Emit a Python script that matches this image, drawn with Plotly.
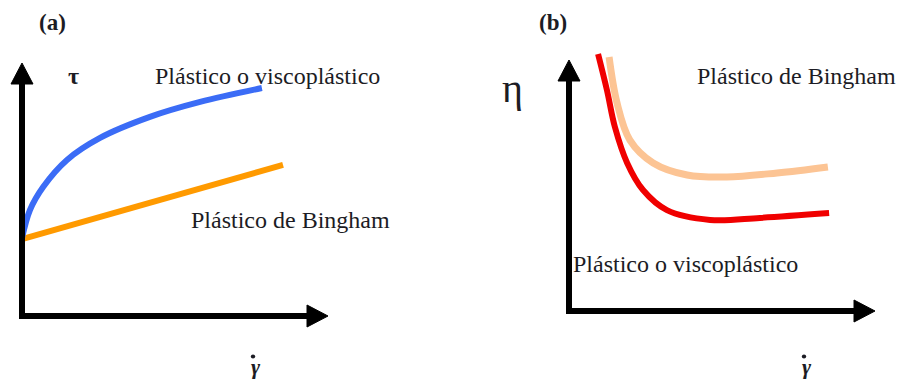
import plotly.graph_objects as go

W, H = 899, 380

# ---- data (abstract units: 0..10 along each drawn axis) ----
# (a) shear stress tau vs shear rate
a_visco_x = [0, 0.26, 0.69, 1.47, 2.55, 4.18, 5.82, 7.84]
a_visco_y = [3.08, 4.19, 5.10, 6.17, 7.04, 7.87, 8.46, 9.01]
a_bingham_x = [0, 8.53]
a_bingham_y = [3.04, 5.97]

# (b) viscosity eta vs shear rate
b_visco_x = [0.95, 1.24, 1.50, 1.90, 2.42, 3.20, 4.61, 6.24, 8.50]
b_visco_y = [10.24, 8.80, 7.33, 5.90, 4.82, 4.02, 3.63, 3.71, 3.90]
b_bingham_x = [1.31, 1.57, 1.99, 2.75, 3.86, 5.16, 6.80, 8.46]
b_bingham_y = [10.12, 8.29, 6.81, 5.90, 5.42, 5.34, 5.50, 5.74]

label_visco = "Plástico o viscoplástico"
label_bingham = "Plástico de Bingham"

# ---- panel frames in pixels: origin, x-arrow tip, y-arrow tip ----
frames = {
    "a": dict(ox=22, oy=316, xt=328, yt=63),
    "b": dict(ox=569, oy=311, xt=875, yt=60),
}
PAD = 0.6  # data-unit padding around the 0..10 box


def px(x):
    return x / W


def py(y):
    return 1 - y / H


fig = go.Figure()

layout_axes = {}
for i, key in enumerate(["a", "b"], start=1):
    f = frames[key]
    sx = (f["xt"] - f["ox"]) / 10.0
    sy = (f["oy"] - f["yt"]) / 10.0
    left = f["ox"] - PAD * sx
    right = f["xt"] + PAD * sx
    bottom = f["oy"] + PAD * sy
    top = f["yt"] - PAD * sy
    suffix = "" if i == 1 else str(i)
    common = dict(visible=False, showgrid=False, zeroline=False, fixedrange=True)
    layout_axes["xaxis" + suffix] = dict(domain=[px(left), px(right)], range=[-PAD, 10 + PAD],
                                         anchor="y" + suffix, **common)
    layout_axes["yaxis" + suffix] = dict(domain=[py(bottom), py(top)], range=[-PAD, 10 + PAD],
                                         anchor="x" + suffix, **common)

fig.add_trace(go.Scatter(x=a_bingham_x, y=a_bingham_y, mode="lines",
                         line=dict(color="#ff9a00", width=6), xaxis="x", yaxis="y"))
fig.add_trace(go.Scatter(x=a_visco_x, y=a_visco_y, mode="lines",
                         line=dict(color="#3b6cf6", width=6, shape="spline", smoothing=1.0),
                         xaxis="x", yaxis="y"))
fig.add_trace(go.Scatter(x=b_bingham_x, y=b_bingham_y, mode="lines",
                         line=dict(color="#fcc494", width=7, shape="spline", smoothing=1.0),
                         xaxis="x2", yaxis="y2"))
fig.add_trace(go.Scatter(x=b_visco_x, y=b_visco_y, mode="lines",
                         line=dict(color="#f00000", width=6, shape="spline", smoothing=1.0),
                         xaxis="x2", yaxis="y2"))

# ---- axis arrows ----
shapes = []
AL, AW = 21, 11  # arrowhead length and half-width (px)
for f in frames.values():
    ox, oy, xt, yt = f["ox"], f["oy"], f["xt"], f["yt"]
    shapes.append(dict(type="path", xref="paper", yref="paper",
                       path=f"M{px(ox)},{py(yt + AL - 1)} L{px(ox)},{py(oy)} L{px(xt - AL + 1)},{py(oy)}",
                       line=dict(color="black", width=6)))
    shapes.append(dict(type="path", xref="paper", yref="paper",
                       path=f"M{px(ox)},{py(yt)} L{px(ox - AW)},{py(yt + AL)} L{px(ox + AW)},{py(yt + AL)} Z",
                       fillcolor="black", line=dict(color="black", width=1)))
    shapes.append(dict(type="path", xref="paper", yref="paper",
                       path=f"M{px(xt)},{py(oy)} L{px(xt - AL)},{py(oy - AW)} L{px(xt - AL)},{py(oy + AW)} Z",
                       fillcolor="black", line=dict(color="black", width=1)))

SERIF = "Liberation Serif"
TXT = "#1c1c24"

# shear-rate symbol: bold gamma with an overdot, under each x axis
gamma_x = [255, 806]
for gx in gamma_x:
    shapes.append(dict(type="circle", xref="paper", yref="paper",
                       x0=px(gx - 4.2), x1=px(gx + 0.2), y0=py(354.5), y1=py(358.5),
                       fillcolor=TXT, line=dict(width=0)))


def label(text, x, y, size=24, bold=False, italic=False, color=TXT):
    t = f"<b>{text}</b>" if bold else text
    t = f"<i>{t}</i>" if italic else t
    return dict(text=t, x=px(x), y=py(y), xref="paper", yref="paper",
                xanchor="center", yanchor="middle", showarrow=False,
                font=dict(family=SERIF, size=size, color=color))


annotations = [
    label("(a)", 52, 23, size=23, bold=True),
    label("τ", 73, 76, size=24, bold=True),
    label(label_visco, 267, 76),
    label(label_bingham, 290, 220),
    label("(b)", 553, 23, size=23, bold=True),
    label("η", 512, 88, size=40),
    label(label_bingham, 796, 76),
    label(label_visco, 685, 264),
] + [label("γ", gx + 1, 366, size=22, bold=True, italic=True) for gx in gamma_x]

fig.update_layout(
    width=W, height=H,
    margin=dict(l=0, r=0, t=0, b=0),
    paper_bgcolor="white", plot_bgcolor="white",
    showlegend=False,
    shapes=shapes,
    annotations=annotations,
    **layout_axes,
)

fig.write_html("out.html", config=dict(displayModeBar=False))
